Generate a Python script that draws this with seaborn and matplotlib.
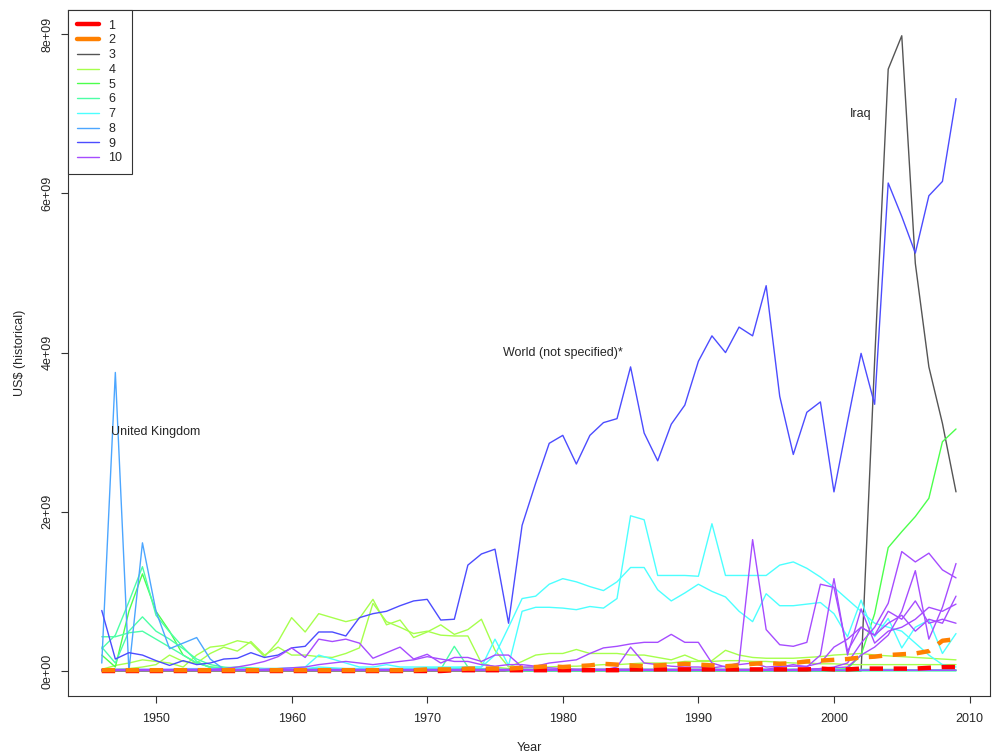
import matplotlib
matplotlib.use("Agg")
import matplotlib.pyplot as plt
from matplotlib.lines import Line2D
import pandas as pd
import seaborn as sns

years = list(range(1946, 2010))

# Annual amounts in billions of US$ (historical), 1946-2009
g1_total = ([0.0] * 10 + [0.0] * 10 +
            [0, 0, 0, 0, 0, 0, 0.01, 0.01, 0.01, 0.01] +
            [0.01, 0.01, 0.01, 0.01, 0.01, 0.01, 0.01, 0.01, 0.01, 0.02] +
            [0.02] * 10 +
            [0.02, 0.02, 0.02, 0.03, 0.02, 0.02, 0.03, 0.03, 0.03, 0.03] +
            [0.03, 0.04, 0.05, 0.05])
g2_total = ([0.01] * 20 +
            [0.01, 0.01, 0.01, 0.01, 0.02, 0.02, 0.02, 0.03, 0.03, 0.03] +
            [0.03, 0.04, 0.05, 0.06, 0.05, 0.06, 0.07, 0.09, 0.08, 0.07] +
            [0.06, 0.07, 0.08, 0.09, 0.08, 0.07, 0.06, 0.07, 0.09, 0.10] +
            [0.09, 0.10, 0.12, 0.13, 0.14, 0.15, 0.17, 0.18, 0.20, 0.21] +
            [0.22, 0.25, 0.38, 0.40])
iraq = ([0.0] * 57 + [3.90, 7.56, 7.98, 5.12, 3.82, 3.11, 2.25])
g4_a = ([0.02, 0.07, 0.10, 0.14, 0.12, 0.10, 0.05, 0.20, 0.30, 0.32] +
        [0.38, 0.35, 0.18, 0.37, 0.67, 0.49, 0.72, 0.67, 0.62, 0.66] +
        [0.90, 0.58, 0.64, 0.42, 0.49, 0.58, 0.46, 0.52, 0.65, 0.26] +
        [0.05, 0.12, 0.20, 0.22, 0.22, 0.27, 0.22, 0.22, 0.22, 0.20] +
        [0.20, 0.17, 0.14, 0.20, 0.13, 0.13, 0.26, 0.20, 0.17, 0.16] +
        [0.16, 0.16, 0.17, 0.18, 0.20, 0.21, 0.22, 0.20, 0.19, 0.18] +
        [0.17, 0.16, 0.15, 0.14])
g4_b = ([0.00, 0.02, 0.03, 0.05, 0.08, 0.20, 0.12, 0.10, 0.22, 0.30] +
        [0.25, 0.37, 0.20, 0.30, 0.20, 0.20, 0.18, 0.17, 0.22, 0.29] +
        [0.85, 0.62, 0.55, 0.47, 0.50, 0.45, 0.44, 0.44, 0.10, 0.05] +
        [0.03, 0.04, 0.05, 0.05, 0.06, 0.06, 0.07, 0.08, 0.08, 0.09] +
        [0.10, 0.10, 0.10, 0.12, 0.12, 0.12, 0.13, 0.13, 0.12, 0.12] +
        [0.11, 0.10, 0.10, 0.09, 0.09, 0.08, 0.08, 0.08, 0.08, 0.08] +
        [0.08, 0.08, 0.08, 0.08])
g5_a = ([0.20, 0.05, 0.75, 1.22, 0.75, 0.50, 0.20, 0.10, 0.05, 0.03] +
        [0.02] * 40 +
        [0.02, 0.02, 0.02, 0.02, 0.02, 0.03, 0.20, 0.72, 1.55, 1.75] +
        [1.94, 2.17, 2.88, 3.04])
g6_a = ([0.28, 0.45, 0.87, 1.31, 0.70, 0.49, 0.30, 0.12, 0.04, 0.03] +
        [0.02] * 50 + [0.01] * 4)
g6_b = ([0.43, 0.43, 0.48, 0.50, 0.40, 0.30, 0.20, 0.10, 0.05, 0.04] +
        [0.05, 0.04, 0.03, 0.03, 0.03, 0.03, 0.03, 0.02, 0.02, 0.02] +
        [0.02, 0.02, 0.02, 0.02, 0.02, 0.02, 0.31, 0.05, 0.02, 0.02] +
        [0.01] * 34)
g6_c = ([0.30, 0.10, 0.50, 0.68, 0.50, 0.40, 0.28, 0.15, 0.08, 0.05] +
        [0.03] * 20 + [0.0] * 34)
g7_a = ([0.02, 0.02, 0.02, 0.02, 0.02, 0.02, 0.03, 0.03, 0.03, 0.03] +
        [0.03, 0.03, 0.03, 0.03, 0.04, 0.05, 0.20, 0.15, 0.10, 0.05] +
        [0.05, 0.08, 0.05, 0.05, 0.05, 0.05, 0.05, 0.05, 0.05, 0.40] +
        [0.07, 0.75, 0.80, 0.80, 0.79, 0.77, 0.81, 0.79, 0.91, 1.95] +
        [1.90, 1.20, 1.20, 1.20, 1.19, 1.85, 1.20, 1.20, 1.20, 1.20] +
        [1.33, 1.37, 1.29, 1.18, 1.05, 0.90, 0.75, 0.60, 0.55, 0.50] +
        [0.35, 0.20, 0.08, 0.05])
g7_b = ([0.01] * 10 +
        [0.01, 0.01, 0.01, 0.02, 0.03, 0.03, 0.05, 0.04, 0.03, 0.03] +
        [0.03, 0.03, 0.03, 0.03, 0.04, 0.04, 0.04, 0.05, 0.05, 0.20] +
        [0.55, 0.91, 0.94, 1.09, 1.16, 1.12, 1.06, 1.01, 1.12, 1.30] +
        [1.30, 1.02, 0.88, 0.98, 1.09, 1.00, 0.93, 0.75, 0.62, 0.97] +
        [0.82, 0.82, 0.84, 0.86, 0.72, 0.43, 0.89, 0.43, 0.66, 0.29] +
        [0.55, 0.64, 0.22, 0.47])
united_kingdom = ([0.10, 3.75, 0.00, 1.61, 0.75, 0.28, 0.35, 0.42, 0.15, 0.02] +
                  [0.01] * 54)
world_not_specified = (
    [0.76, 0.15, 0.23, 0.20, 0.13, 0.07, 0.13, 0.08, 0.10, 0.15] +
    [0.16, 0.23, 0.17, 0.20, 0.29, 0.31, 0.49, 0.49, 0.44, 0.67] +
    [0.72, 0.75, 0.82, 0.88, 0.90, 0.64, 0.65, 1.33, 1.47, 1.53] +
    [0.60, 1.83, 2.36, 2.86, 2.96, 2.60, 2.96, 3.12, 3.17, 3.82] +
    [2.99, 2.64, 3.10, 3.34, 3.89, 4.21, 4.00, 4.32, 4.21, 4.84] +
    [3.45, 2.72, 3.25, 3.38, 2.25, 3.13, 3.99, 3.35, 6.13, 5.71] +
    [5.25, 5.97, 6.15, 7.19])
g10_a = ([0.01, 0.01, 0.01, 0.01, 0.01, 0.01, 0.02, 0.02, 0.02, 0.03] +
         [0.05, 0.08, 0.12, 0.18, 0.29, 0.17, 0.40, 0.37, 0.40, 0.35] +
         [0.16, 0.23, 0.30, 0.15, 0.21, 0.10, 0.17, 0.17, 0.12, 0.20] +
         [0.20, 0.05, 0.05, 0.04, 0.03, 0.02, 0.02, 0.02, 0.02, 0.02] +
         [0.01] * 24)
g10_b = ([0.01] * 10 +
         [0.01, 0.01, 0.02, 0.03, 0.04, 0.05, 0.08, 0.10, 0.12, 0.10] +
         [0.08, 0.10, 0.12, 0.14, 0.18, 0.15, 0.12, 0.12, 0.08, 0.06] +
         [0.08, 0.08, 0.06, 0.10, 0.12, 0.14, 0.22, 0.29, 0.31, 0.34] +
         [0.36, 0.36, 0.46, 0.36, 0.36, 0.10, 0.05, 0.08, 0.10, 0.05] +
         [0.06, 0.06, 0.06, 0.10, 0.30, 0.40, 0.55, 0.45, 0.75, 0.65] +
         [0.88, 0.60, 0.65, 0.60])
g10_c = ([0.01] * 38 + [0.05, 0.30] +
         [0.10, 0.08, 0.06, 0.05, 0.05, 0.04, 0.06, 0.10, 1.65, 0.52] +
         [0.33, 0.31, 0.36, 1.09, 1.05, 0.25, 0.55, 0.45, 0.60, 0.70] +
         [0.50, 0.65, 0.60, 0.94])
g10_d = ([0.02] * 50 +
         [0.05, 0.08, 0.05, 0.20, 1.16, 0.20, 0.78, 0.35, 0.50, 0.55] +
         [0.65, 0.80, 0.75, 0.84])
g10_e = ([0.01] * 50 +
         [0.01, 0.02, 0.02, 0.03, 0.05, 0.10, 0.35, 0.55, 0.85, 1.50] +
         [1.37, 1.48, 1.27, 1.17])
g10_f = ([0.01] * 50 +
         [0.01, 0.01, 0.02, 0.03, 0.04, 0.05, 0.20, 0.30, 0.45, 0.75] +
         [1.26, 0.40, 0.80, 1.35])

group_labels = ["1", "2", "3", "4", "5", "6", "7", "8", "9", "10"]
group_colors = ["#FF0000", "#FF8000", "#555555", "#A6FF4C", "#4CFF4C",
                "#4CFFA6", "#4CFFFF", "#4CA6FF", "#4C4CFF", "#A64CFF"]
ytick_values = [0, 2e9, 4e9, 6e9, 8e9]
ytick_labels = ["0e+00", "2e+09", "4e+09", "6e+09", "8e+09"]
xtick_values = [1950, 1960, 1970, 1980, 1990, 2000, 2010]

series = [
    ("g1_total", "1", g1_total), ("g2_total", "2", g2_total),
    ("Iraq", "3", iraq),
    ("g4_a", "4", g4_a), ("g4_b", "4", g4_b),
    ("g5_a", "5", g5_a),
    ("g6_a", "6", g6_a), ("g6_b", "6", g6_b), ("g6_c", "6", g6_c),
    ("g7_a", "7", g7_a), ("g7_b", "7", g7_b),
    ("United Kingdom", "8", united_kingdom),
    ("World (not specified)*", "9", world_not_specified),
    ("g10_a", "10", g10_a), ("g10_b", "10", g10_b), ("g10_c", "10", g10_c),
    ("g10_d", "10", g10_d), ("g10_e", "10", g10_e), ("g10_f", "10", g10_f),
]

rows = []
for name, grp, vals in series:
    for yr, v in zip(years, vals):
        rows.append({"series": name, "group": grp, "year": yr, "value": v * 1e9})
df = pd.DataFrame(rows)

sns.set_style("ticks")
plt.rcParams["font.family"] = ["Liberation Sans", "DejaVu Sans"]

palette = dict(zip(group_labels, group_colors))

fig = plt.figure(figsize=(9.92, 7.55), dpi=100)
ax = fig.add_axes([0.06815, 0.07762, 0.9300, 0.9087])

thin = df[~df["group"].isin(["1", "2"])]
thick = df[df["group"].isin(["1", "2"])]

sns.lineplot(data=thin, x="year", y="value", hue="group", units="series",
             estimator=None, palette=palette, hue_order=group_labels[2:],
             linewidth=1.0, legend=False, ax=ax)
sns.lineplot(data=thick, x="year", y="value", hue="group", style="group",
             units="series", estimator=None, palette=palette,
             hue_order=group_labels[:2], style_order=group_labels[:2],
             dashes={"1": (3, 2.4), "2": (3, 2.4)},
             linewidth=3.2, legend=False, ax=ax)

ymax = max(max(v) for _, _, v in series) * 1e9
ax.set_xlim(1946 - 0.04 * 63, 2009 + 0.04 * 63)
ax.set_ylim(-0.04 * ymax, ymax * 1.04)

ax.set_xticks(xtick_values)
ax.set_xticklabels([str(v) for v in xtick_values])
ax.set_yticks(ytick_values)
ax.set_yticklabels(ytick_labels, rotation=90, va="center")
ax.tick_params(direction="out", length=5, width=0.8, color="#333333",
               labelsize=9, pad=5)
ax.tick_params(axis="x", pad=7)
for sp in ax.spines.values():
    sp.set_visible(True)
    sp.set_color("#333333")
    sp.set_linewidth(0.8)

ax.set_xlabel("Year", fontsize=9, labelpad=12)
ax.set_ylabel("US$ (historical)", fontsize=9, labelpad=11)

ax.text(1950, 3.0e9, "United Kingdom", ha="center", va="center", fontsize=9)
ax.text(1980, 4.0e9, "World (not specified)*", ha="center", va="center", fontsize=9)
ax.text(2002, 7.0e9, "Iraq", ha="center", va="center", fontsize=9)

handles = []
for lab, col in zip(group_labels, group_colors):
    lw = 3.2 if lab in ("1", "2") else 1.0
    handles.append(Line2D([0], [0], color=col, lw=lw))
leg = ax.legend(handles, group_labels, loc="upper left", fontsize=9,
                frameon=True, fancybox=False, framealpha=1,
                edgecolor="#333333", borderaxespad=0, borderpad=0.75,
                handlelength=1.8, handletextpad=0.7, labelspacing=0.22)
leg.get_frame().set_linewidth(0.8)

fig.savefig("out.png", dpi=100)
